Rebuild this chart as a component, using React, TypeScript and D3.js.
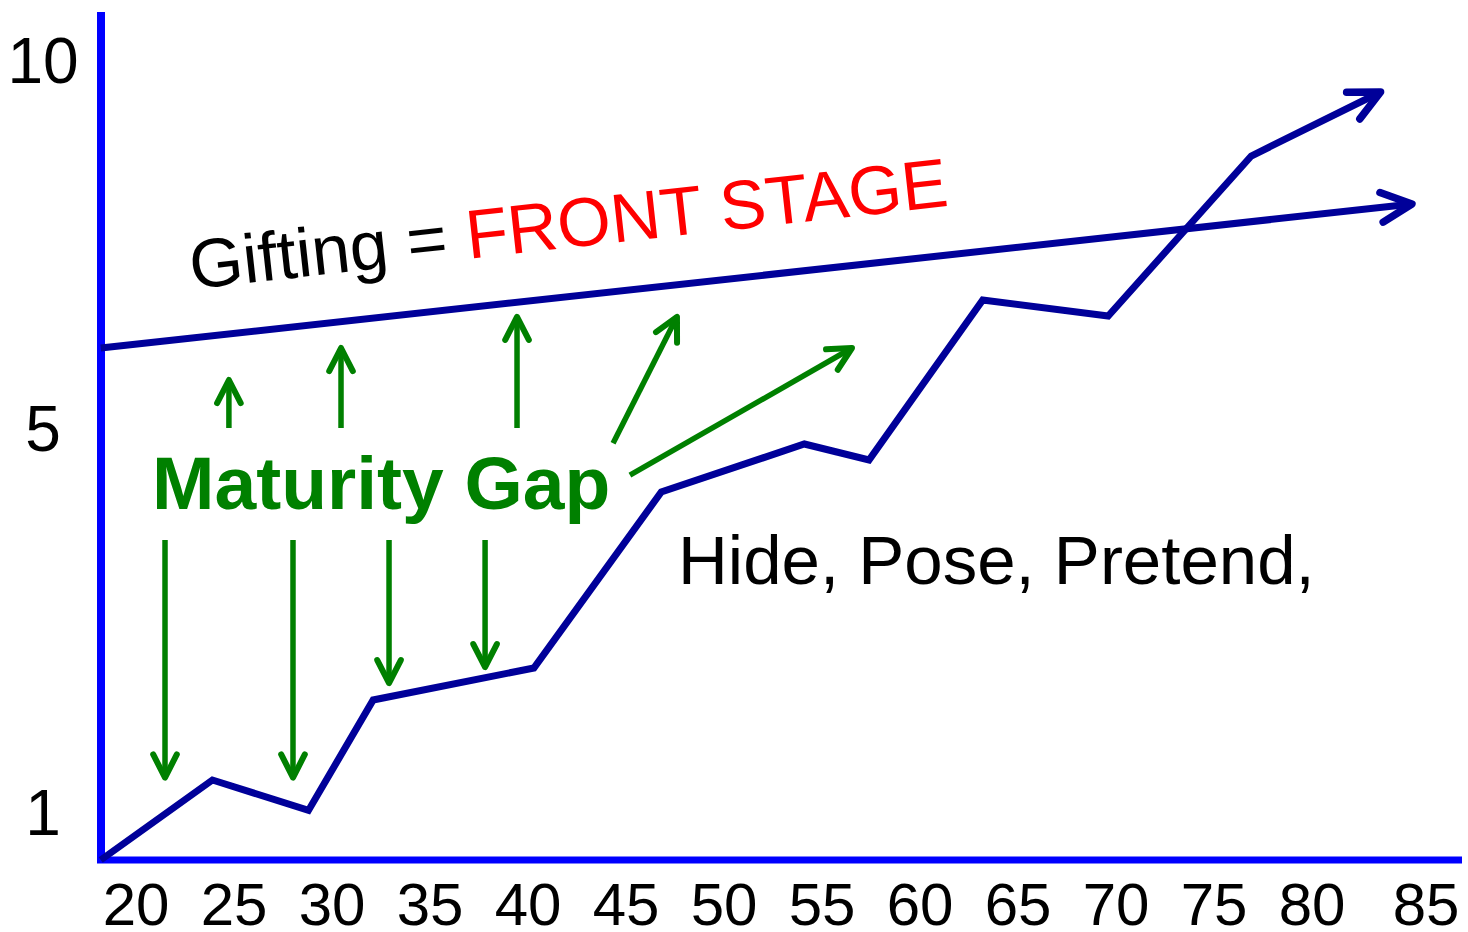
import React from "react";
import * as d3 from "d3";

// ---- data ----
const xTicks = [20, 25, 30, 35, 40, 45, 50, 55, 60, 65, 70, 75, 80, 85];
const yTickLabels = ["1", "5", "10"];
const yTickValues = [0.6, 5.4, 10];

// maturity path (age, level)
const maturityAges = [18.2, 23.9, 28.8, 32.1, 40.3, 46.8, 54.1, 57.4, 63.2, 69.6, 76.9, 83.5];
const maturityValues = [0, 1.0, 0.62, 2.0, 2.4, 4.6, 5.2, 5.0, 7.0, 6.8, 8.8, 9.6];

// front stage (gifting) line
const frontStageAges = [18.2, 85.1];
const frontStageValues = [6.4, 8.2];

// maturity-gap arrows
const upArrowAges = [24.74, 30.46, 39.44];
const upArrowFrom = [5.4, 5.4, 5.4];
const upArrowTo = [6.0, 6.4, 6.79];

const diagFromAges = [44.34, 45.2];
const diagFromValues = [5.21, 4.81];
const diagToAges = [47.6, 56.53];
const diagToValues = [6.79, 6.4];

const downArrowAges = [21.48, 28.01, 32.91, 37.81];
const downArrowFrom = [4.0, 4.0, 4.0, 4.0];
const downArrowTo = [1.03, 1.03, 2.21, 2.41];

const W = 1468;
const H = 932;
const NAVY = "#000099";
const BLUE = "#0000FF";
const GREEN = "#008000";
const FONT = "'Liberation Sans', Arial, Helvetica, sans-serif";

function headPath(tx: number, ty: number, fx: number, fy: number, len: number, angDeg: number) {
  const a = Math.atan2(fy - ty, fx - tx);
  const d = (angDeg * Math.PI) / 180;
  const p1 = [tx + len * Math.cos(a + d), ty + len * Math.sin(a + d)];
  const p2 = [tx + len * Math.cos(a - d), ty + len * Math.sin(a - d)];
  return `M${p1[0]},${p1[1]}L${tx},${ty}L${p2[0]},${p2[1]}`;
}

export default function App() {
  const x = d3.scaleLinear().domain([20, 85]).range([136, 1410]);
  const y = d3.scaleLinear().domain([0, 10]).range([860, 60]);

  const plotLeft = 101;
  const plotRight = 1462;
  const plotTop = 12;
  const plotBottom = 860;

  const line = d3
    .line<[number, number]>()
    .x((d) => x(d[0]))
    .y((d) => y(d[1]));

  const maturity: [number, number][] = maturityAges.map((a, i) => [a, maturityValues[i]]);
  const front: [number, number][] = frontStageAges.map((a, i) => [a, frontStageValues[i]]);

  const mLast = maturity[maturity.length - 1];
  const mPrev = maturity[maturity.length - 2];
  const fLast = front[front.length - 1];
  const fPrev = front[0];

  const greenArrows: { fx: number; fy: number; tx: number; ty: number }[] = [];
  upArrowAges.forEach((a, i) =>
    greenArrows.push({ fx: x(a), fy: y(upArrowFrom[i]), tx: x(a), ty: y(upArrowTo[i]) })
  );
  diagFromAges.forEach((a, i) =>
    greenArrows.push({ fx: x(a), fy: y(diagFromValues[i]), tx: x(diagToAges[i]), ty: y(diagToValues[i]) })
  );
  downArrowAges.forEach((a, i) =>
    greenArrows.push({ fx: x(a), fy: y(downArrowFrom[i]), tx: x(a), ty: y(downArrowTo[i]) })
  );

  const frontAngle = (Math.atan2(y(fLast[1]) - y(fPrev[1]), x(fLast[0]) - x(fPrev[0])) * 180) / Math.PI;

  return (
    <svg
      width={W}
      height={H}
      viewBox={`0 0 ${W} ${H}`}
      style={{ position: "absolute", left: 0, top: 0, background: "#fff", fontFamily: FONT }}
    >
      <rect x={0} y={0} width={W} height={H} fill="#fff" />

      {/* axes */}
      <line x1={plotLeft} y1={plotTop} x2={plotLeft} y2={plotBottom + 3} stroke={BLUE} strokeWidth={8} />
      <line x1={plotLeft - 4} y1={plotBottom} x2={plotRight} y2={plotBottom} stroke={BLUE} strokeWidth={7} />

      {/* x tick labels */}
      {xTicks.map((t, i) => (
        <text
          key={t}
          x={x(t) + (i === xTicks.length - 1 ? 16 : 0)}
          y={925}
          fontSize={60}
          textAnchor="middle"
          fill="#000"
        >
          {t}
        </text>
      ))}

      {/* y tick labels */}
      {yTickLabels.map((lbl, i) => (
        <text key={lbl} x={43} y={y(yTickValues[i]) + 23} fontSize={64} textAnchor="middle" fill="#000">
          {lbl}
        </text>
      ))}

      {/* front stage line */}
      <path d={line(front) || ""} fill="none" stroke={NAVY} strokeWidth={7} />
      <path
        d={headPath(x(fLast[0]), y(fLast[1]), x(fPrev[0]), y(fPrev[1]), 34, 26)}
        fill="none"
        stroke={NAVY}
        strokeWidth={7.5}
        strokeLinecap="round"
        strokeLinejoin="round"
      />

      {/* maturity line */}
      <path d={line(maturity) || ""} fill="none" stroke={NAVY} strokeWidth={7} strokeLinejoin="miter" />
      <path
        d={headPath(x(mLast[0]), y(mLast[1]), x(mPrev[0]), y(mPrev[1]), 34, 26)}
        fill="none"
        stroke={NAVY}
        strokeWidth={7.5}
        strokeLinecap="round"
        strokeLinejoin="round"
      />

      {/* green gap arrows */}
      {greenArrows.map((g, i) => (
        <g key={i}>
          <line x1={g.fx} y1={g.fy} x2={g.tx} y2={g.ty} stroke={GREEN} strokeWidth={5.5} />
          <path
            d={headPath(g.tx, g.ty, g.fx, g.fy, 26, 27)}
            fill="none"
            stroke={GREEN}
            strokeWidth={6}
            strokeLinecap="round"
            strokeLinejoin="round"
          />
        </g>
      ))}

      {/* annotations */}
      <text transform={`translate(192,289) rotate(${frontAngle})`} fontSize={69} fill="#000">
        <tspan>Gifting = </tspan>
        <tspan fill="#FF0000">FRONT STAGE</tspan>
      </text>

      <text x={152} y={509} fontSize={75} fontWeight="bold" fill={GREEN}>
        Maturity Gap
      </text>

      <text x={678} y={584} fontSize={69} fill="#000">
        Hide, Pose, Pretend,
      </text>
    </svg>
  );
}
